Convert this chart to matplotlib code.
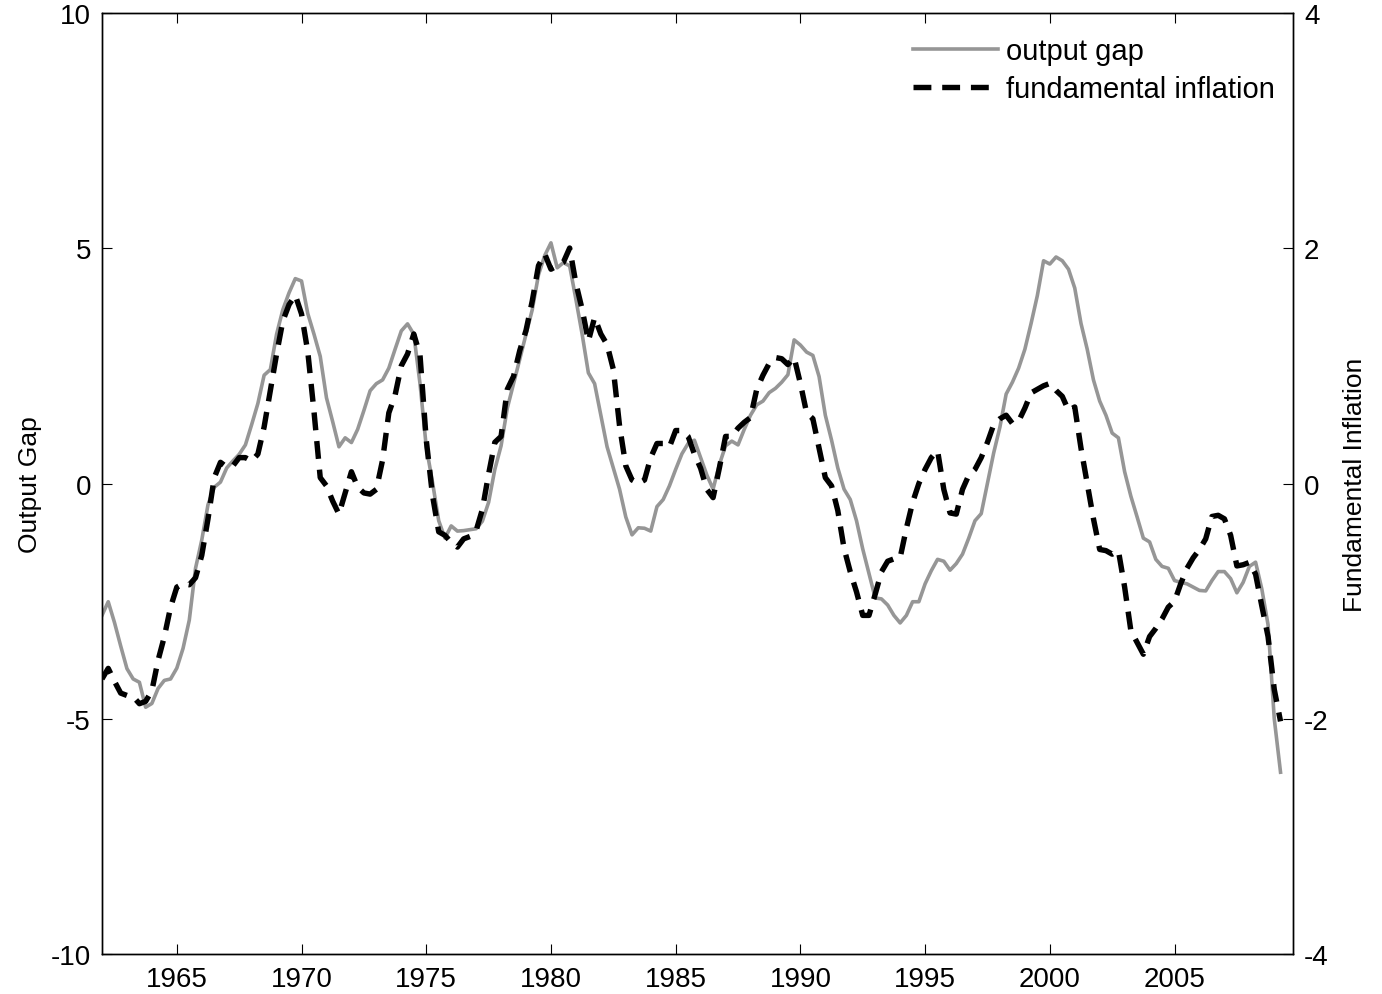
import numpy as np
import matplotlib
matplotlib.use("Agg")
import matplotlib.pyplot as plt

plt.rcParams['font.family'] = ['Liberation Sans', 'DejaVu Sans']
plt.rcParams['axes.unicode_minus'] = False

# quarterly data, 1962Q1 .. 2009Q2
start_year = 1962
output_gap = [
    -2.80, -2.51, -2.95, -3.45, -3.93, -4.15, -4.22, -4.75, -4.67, -4.35,
    -4.18, -4.15, -3.92, -3.50, -2.90, -1.80, -1.20, -0.45, -0.08, 0.03,
    0.33, 0.48, 0.62, 0.82, 1.25, 1.70, 2.30, 2.42, 3.17, 3.69,
    4.05, 4.35, 4.30, 3.61, 3.17, 2.70, 1.82, 1.31, 0.78, 0.97,
    0.87, 1.15, 1.55, 1.97, 2.12, 2.20, 2.45, 2.85, 3.24, 3.39,
    3.17, 2.12, 0.78, 0.03, -0.79, -1.16, -0.90, -1.01, -1.00, -0.98,
    -0.96, -0.80, -0.40, 0.30, 0.80, 1.60, 2.12, 2.64, 3.17, 3.69,
    4.43, 4.84, 5.11, 4.58, 4.69, 4.62, 3.91, 3.17, 2.35, 2.12,
    1.45, 0.78, 0.33, -0.12, -0.71, -1.09, -0.94, -0.95, -1.01, -0.49,
    -0.34, -0.05, 0.30, 0.63, 0.85, 0.92, 0.55, 0.18, -0.12, 0.40,
    0.80, 0.90, 0.82, 1.15, 1.45, 1.67, 1.75, 1.93, 2.02, 2.15,
    2.31, 3.05, 2.94, 2.79, 2.72, 2.27, 1.45, 0.92, 0.33, -0.12,
    -0.34, -0.79, -1.39, -1.91, -2.43, -2.45, -2.58, -2.80, -2.96, -2.80,
    -2.51, -2.51, -2.13, -1.85, -1.61, -1.65, -1.84, -1.70, -1.50, -1.16,
    -0.79, -0.64, 0.00, 0.65, 1.20, 1.90, 2.15, 2.45, 2.85, 3.40,
    3.99, 4.73, 4.66, 4.81, 4.73, 4.55, 4.15, 3.40, 2.85, 2.20,
    1.75, 1.45, 1.07, 0.97, 0.25, -0.27, -0.71, -1.16, -1.24, -1.61,
    -1.76, -1.80, -2.06, -2.10, -2.13, -2.20, -2.27, -2.28, -2.06, -1.87,
    -1.87, -2.02, -2.32, -2.10, -1.76, -1.67, -2.24, -3.00, -5.00, -6.13,
]
fund_infl = [
    -1.66, -1.57, -1.68, -1.78, -1.80, -1.81, -1.87, -1.85, -1.76, -1.50,
    -1.30, -1.05, -0.88, -0.85, -0.86, -0.80, -0.61, -0.30, 0.05, 0.18,
    0.14, 0.15, 0.22, 0.22, 0.19, 0.25, 0.48, 0.79, 1.10, 1.38,
    1.52, 1.60, 1.44, 1.12, 0.61, 0.05, -0.02, -0.15, -0.26, -0.08,
    0.10, -0.03, -0.08, -0.09, -0.05, 0.20, 0.60, 0.75, 1.00, 1.10,
    1.27, 1.09, 0.37, -0.10, -0.41, -0.44, -0.50, -0.54, -0.47, -0.45,
    -0.40, -0.22, 0.08, 0.35, 0.40, 0.80, 0.91, 1.13, 1.30, 1.55,
    1.85, 1.95, 1.82, 1.85, 1.88, 2.00, 1.70, 1.48, 1.21, 1.41,
    1.27, 1.18, 0.97, 0.49, 0.15, 0.03, 0.00, 0.03, 0.22, 0.34,
    0.34, 0.31, 0.45, 0.45, 0.40, 0.25, 0.13, -0.05, -0.12, 0.13,
    0.40, 0.40, 0.47, 0.52, 0.56, 0.80, 0.92, 1.02, 1.07, 1.06,
    1.01, 1.07, 0.85, 0.60, 0.55, 0.30, 0.05, -0.02, -0.23, -0.55,
    -0.75, -0.92, -1.12, -1.12, -0.94, -0.75, -0.66, -0.64, -0.63, -0.38,
    -0.16, 0.00, 0.12, 0.22, 0.28, -0.05, -0.25, -0.26, -0.05, 0.07,
    0.12, 0.22, 0.35, 0.50, 0.55, 0.58, 0.51, 0.53, 0.64, 0.77,
    0.80, 0.83, 0.85, 0.79, 0.74, 0.62, 0.65, 0.30, 0.00, -0.30,
    -0.56, -0.57, -0.60, -0.57, -0.88, -1.25, -1.35, -1.45, -1.30, -1.23,
    -1.15, -1.05, -1.00, -0.85, -0.72, -0.63, -0.56, -0.47, -0.28, -0.27,
    -0.30, -0.44, -0.70, -0.69, -0.67, -0.77, -1.04, -1.30, -1.75, -2.02,
]
year_ticks = [1965, 1970, 1975, 1980, 1985, 1990, 1995, 2000, 2005]
left_ticks = [-10, -5, 0, 5, 10]
right_ticks = [-4, -2, 0, 2, 4]

dates = start_year + np.arange(len(output_gap)) / 4.0

fig = plt.figure(figsize=(13.82, 9.95), dpi=100)
ax1 = fig.add_axes([0.0738, 0.0397, 0.8618, 0.9467])
ax2 = ax1.twinx()

l1, = ax1.plot(dates, output_gap, color='#969696', lw=2.6, label='output gap')
l2, = ax2.plot(dates, fund_infl, color='black', lw=3.9, linestyle=(0, (3.3, 2.0)),
               label='fundamental inflation')

ax1.set_xlim(1962, 2009.75)
ax1.set_ylim(-10, 10)
ax2.set_ylim(-4, 4)
ax1.set_xticks(year_ticks)
ax1.set_yticks(left_ticks)
ax2.set_yticks(right_ticks)

ax1.tick_params(axis='both', direction='in', length=7, width=0.8, labelsize=20,
                top=True, pad=8)
ax2.tick_params(axis='y', direction='in', length=7, width=0.8, labelsize=20, pad=8)
for ax in (ax1, ax2):
    for s in ax.spines.values():
        s.set_linewidth(1.0)

ax1.set_ylabel('Output Gap', fontsize=19, labelpad=6)
ax2.set_ylabel('Fundamental Inflation', fontsize=19, labelpad=10)

ax2.legend(handles=[l1, l2], loc='upper left', bbox_to_anchor=(913 / 1382, 1 - 38 / 995),
           bbox_transform=fig.transFigure, frameon=False, fontsize=21,
           handlelength=2.9, handletextpad=0.3, labelspacing=0.35,
           borderpad=0, borderaxespad=0)

fig.savefig('out.png', dpi=100)
